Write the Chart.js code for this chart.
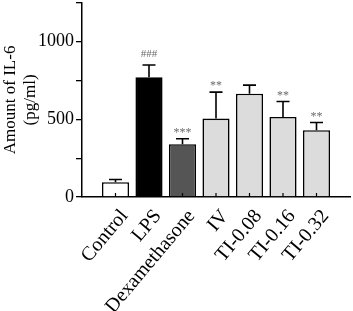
<!DOCTYPE html>
<html>
<head>
<meta charset="utf-8">
<script src="https://cdn.jsdelivr.net/npm/chart.js@4/dist/chart.umd.min.js"></script>
<style>
  html, body { margin: 0; padding: 0; background: #fff; }
  #wrap { width: 353px; height: 311px; overflow: hidden; }
  #inner { width: 353px; height: 321px; margin-top: -10px; }
</style>
</head>
<body>
<div id="wrap"><div id="inner"><canvas id="il6"></canvas></div></div>
<script>
// blank categories at both ends give the half-gap seen in the figure
const groups = ['', 'Control', 'LPS', 'Dexamethasone', 'IV', 'TI-0.08', 'TI-0.16', 'TI-0.32', ''];
const il6Mean = [null, 95, 770, 340, 505, 665, 515, 430, null];
const il6Err = [null, 18, 80, 35, 170, 55, 100, 50, null];
const sigMarks = ['', '', '###', '***', '**', '', '**', '**', ''];
const yTicks = [0, 500, 1000];

const fills = ['#fff', '#fff', '#000', '#555', '#dcdcdc', '#dcdcdc', '#dcdcdc', '#dcdcdc', '#fff'];

Chart.defaults.font.family = "'Liberation Serif', 'DejaVu Serif', serif";
Chart.defaults.color = '#000';

const errorBars = {
  id: 'errorBars',
  afterDatasetsDraw(chart) {
    const ctx = chart.ctx;
    const y = chart.scales.y;
    const meta = chart.getDatasetMeta(0);
    ctx.save();
    meta.data.forEach((bar, i) => {
      if (il6Mean[i] == null) return;
      const top = y.getPixelForValue(il6Mean[i] + il6Err[i]);
      ctx.strokeStyle = '#000';
      ctx.lineWidth = 1.6;
      ctx.beginPath();
      ctx.moveTo(bar.x, bar.y);
      ctx.lineTo(bar.x, top);
      ctx.moveTo(bar.x - 6.5, top);
      ctx.lineTo(bar.x + 6.5, top);
      ctx.stroke();
      if (sigMarks[i]) {
        ctx.fillStyle = '#6a6a6a';
        ctx.font = (sigMarks[i] === '###' ? '11px' : '12px') + " 'Liberation Serif', serif";
        ctx.textAlign = 'center';
        ctx.textBaseline = 'bottom';
        ctx.fillText(sigMarks[i], bar.x, top - (sigMarks[i] === '###' ? 5 : 0));
      }
    });
    // small inward ticks on the x axis at each bar
    const xs = chart.scales.x;
    const base = chart.chartArea.bottom;
    ctx.strokeStyle = '#000';
    ctx.lineWidth = 1.2;
    ctx.beginPath();
    meta.data.forEach((bar, i) => {
      if (il6Mean[i] == null) return;
      const px = xs.getPixelForValue(i);
      ctx.moveTo(px, base);
      ctx.lineTo(px, base - 4);
    });
    ctx.stroke();
    ctx.restore();
  }
};

new Chart(document.getElementById('il6'), {
  type: 'bar',
  data: {
    labels: groups,
    datasets: [{
      data: il6Mean,
      backgroundColor: fills,
      borderColor: '#000',
      borderWidth: 1.6,
      categoryPercentage: 1,
      barPercentage: 0.81
    }]
  },
  options: {
    responsive: true,
    maintainAspectRatio: false,
    animation: false,
    layout: { padding: { top: 0, right: 3, left: 0, bottom: 0 } },
    plugins: { legend: { display: false }, tooltip: { enabled: false } },
    scales: {
      x: {
        offset: false,
        grid: { display: false },
        border: { color: '#000', width: 1.5 },
        ticks: {
          minRotation: 50,
          maxRotation: 50,
          autoSkip: false,
          padding: 0,
          labelOffset: 9,
          font: { size: 20 }
        },
        afterFit(scale) {
          scale.height = 114;
          scale.paddingLeft = 0;
          scale.paddingRight = 0;
        }
      },
      y: {
        min: 0,
        max: 1250,
        border: { color: '#000', width: 1.5 },
        grid: { drawOnChartArea: false, color: '#000', tickLength: 6, lineWidth: 1.3 },
        ticks: {
          stepSize: 250,
          padding: 2,
          font: { size: 18 },
          callback: (v) => yTicks.includes(v) ? v : ''
        },
        title: {
          display: true,
          text: ['Amount of IL-6', '(pg/ml)'],
          font: { size: 17 },
          padding: { top: 0, bottom: 2 }
        },
        afterFit(scale) { scale.width = 82; }
      }
    }
  },
  plugins: [errorBars]
});
</script>
</body>
</html>
